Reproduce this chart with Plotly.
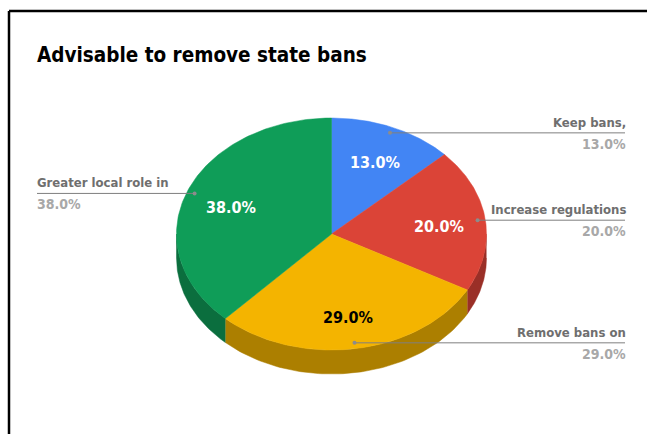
import numpy as np
import plotly.graph_objects as go

# Survey result shares (percent)
categories = ["Keep bans,", "Increase regulations", "Remove bans on", "Greater local role in"]
values = [13.0, 20.0, 29.0, 38.0]
top_colors = ["#4285F4", "#DB4437", "#F4B400", "#0F9D58"]
side_colors = ["#2f5fb0", "#9a2f27", "#ac7f00", "#0b6e3e"]
inside_text_colors = ["white", "white", "black", "white"]
title = "Advisable to remove state bans"

W, H = 647, 434
CX, CY = 331.5, 234.0      # centre of the pie top
RX, RY = 155.0, 116.0      # ellipse radii of the tilted disc
DEPTH = 24.0               # thickness of the disc
LABEL_R = 0.70
DOT_R = 0.95
RIGHT_X, LEFT_X = 625, 37

FONT = "DejaVu Sans Condensed, DejaVu Sans, sans-serif"


def ell(theta_deg, frac=1.0, dy=0.0):
    t = np.radians(theta_deg)
    return CX + RX * frac * np.sin(t), CY - RY * frac * np.cos(t) + dy


fig = go.Figure()

total = sum(values)
bounds = np.concatenate([[0], np.cumsum(values)]) / total * 360.0

# Visible side wall (front half of the disc, 90..270 degrees)
for i in range(len(values)):
    a0, a1 = max(bounds[i], 90.0), min(bounds[i + 1], 270.0)
    if a1 <= a0:
        continue
    th = np.linspace(a0, a1, 80)
    xt, yt = ell(th)
    xb, yb = ell(th[::-1], dy=DEPTH)
    fig.add_trace(go.Scatter(
        x=np.concatenate([xt, xb]), y=np.concatenate([yt, yb]),
        fill="toself", fillcolor=side_colors[i], mode="lines",
        line=dict(width=0.5, color=side_colors[i]), hoverinfo="skip", showlegend=False))

# Top face wedges
for i in range(len(values)):
    th = np.linspace(bounds[i], bounds[i + 1], 120)
    xa, ya = ell(th)
    fig.add_trace(go.Scatter(
        x=np.concatenate([[CX], xa, [CX]]), y=np.concatenate([[CY], ya, [CY]]),
        fill="toself", fillcolor=top_colors[i], mode="lines",
        line=dict(width=0.5, color=top_colors[i]), hoverinfo="skip", showlegend=False))

annotations = []
mids = (bounds[:-1] + bounds[1:]) / 2
for i, (cat, v) in enumerate(zip(categories, values)):
    lx, ly = ell(mids[i], LABEL_R)
    annotations.append(dict(x=lx, y=ly + 3, text=f"<b>{v:.1f}%</b>", showarrow=False,
                            font=dict(family=FONT, size=16, color=inside_text_colors[i]),
                            xanchor="center", yanchor="middle"))
    dx, dy = ell(mids[i], DOT_R)
    right = dx >= CX
    end_x = RIGHT_X if right else LEFT_X
    text_x = end_x + 3 if right else end_x - 2
    fig.add_trace(go.Scatter(x=[dx, end_x], y=[dy, dy], mode="lines",
                             line=dict(color="#7f7f7f", width=1), hoverinfo="skip", showlegend=False))
    fig.add_trace(go.Scatter(x=[dx], y=[dy], mode="markers",
                             marker=dict(color="#8c8c8c", size=4), hoverinfo="skip", showlegend=False))
    anchor = "right" if right else "left"
    annotations.append(dict(x=text_x, y=dy - 1, text=f"<b>{cat}</b>", showarrow=False,
                            font=dict(family=FONT, size=13, color="#6f6f6f"),
                            xanchor=anchor, yanchor="bottom"))
    annotations.append(dict(x=text_x, y=dy + 1, text=f"<b>{v:.1f}%</b>", showarrow=False,
                            font=dict(family=FONT, size=14, color="#a8a8a8"),
                            xanchor=anchor, yanchor="top"))

annotations.append(dict(x=35, y=55, text=f"<b>{title}</b>", showarrow=False,
                        font=dict(family=FONT, size=20.5, color="black"),
                        xanchor="left", yanchor="middle"))

fig.update_layout(
    width=W, height=H, margin=dict(l=0, r=0, t=0, b=0),
    paper_bgcolor="white", plot_bgcolor="white",
    xaxis=dict(range=[0, W], visible=False, fixedrange=True),
    yaxis=dict(range=[H, 0], visible=False, fixedrange=True),
    annotations=annotations,
    shapes=[
        dict(type="line", x0=9, x1=W, y0=11, y1=11, line=dict(color="black", width=2.5)),
        dict(type="line", x0=9, x1=9, y0=11, y1=H, line=dict(color="black", width=2.5)),
    ],
)

fig.write_html("out.html")
